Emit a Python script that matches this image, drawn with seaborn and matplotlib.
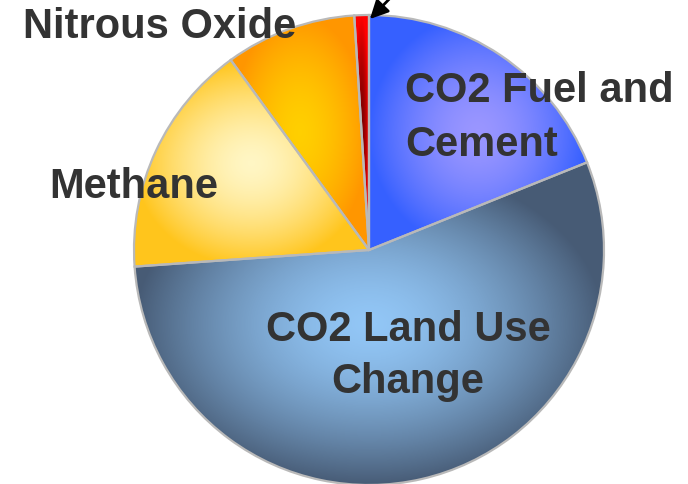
import numpy as np
import seaborn as sns
import matplotlib.pyplot as plt

# shares of the pie, going clockwise from the top
sources = ["CO2 Fuel and\nCement", "CO2 Land Use\nChange", "Methane", "Nitrous Oxide", ""]
shares = [18.9, 54.9, 16.1, 9.0, 1.0]
# (centre colour, edge colour) of each slice's shading
centre_colors = ["#9a96ff", "#92c6f6", "#fff6c4", "#ffcf00", "#7a0000"]
edge_colors = ["#3660ff", "#475b75", "#ffc51c", "#ff9600", "#ff0000"]

sns.set_style("white")
plt.rcParams["font.family"] = ["Liberation Sans", "DejaVu Sans"]

W, H = 688, 484
fig = plt.figure(figsize=(W / 100, H / 100), dpi=100)
ax = fig.add_axes([0, 0, 1, 1])

cx, cy, R = 369, 234, 235
wedges, _ = ax.pie(shares, startangle=90, counterclock=False, center=(cx, cy),
                   radius=R, wedgeprops=dict(facecolor="none", edgecolor="#b9b9b9",
                                             linewidth=1.6, zorder=3))

xx, yy = np.meshgrid(np.arange(W) + 0.5, np.arange(H) + 0.5)
for w, c0, c1 in zip(wedges, centre_colors, edge_colors):
    # shade each slice from the middle of its bounding box outwards
    ang = np.radians(np.linspace(w.theta1, w.theta2, 300))
    px = np.r_[cx, cx + R * np.cos(ang)]
    py = np.r_[cy, cy + R * np.sin(ang)]
    mx, my = (px.min() + px.max()) / 2, (py.min() + py.max()) / 2
    hw, hh = (px.max() - px.min()) / 2, (py.max() - py.min()) / 2
    d = np.sqrt(((xx - mx) / hw) ** 2 + ((yy - my) / hh) ** 2)
    t = np.clip(d, 0, 1) ** 1.6
    cmap = sns.blend_palette([c0, c1], as_cmap=True)
    im = ax.imshow(cmap(t), extent=(0, W, 0, H), origin="lower",
                   interpolation="bilinear", zorder=2)
    im.set_clip_path(w)

txt = dict(fontsize=30, fontweight="bold", color="#333333", zorder=5)
ax.text(405, 484 - 118, sources[0], ha="left", va="center", linespacing=1.45, **txt)
ax.text(408, 484 - 356, sources[1], ha="center", va="center", linespacing=1.38, **txt)
ax.text(134, 484 - 187, sources[2], ha="center", va="center", **txt)
ax.text(160, 484 - 27, sources[3], ha="center", va="center", **txt)

ax.annotate("", xy=(368, 484 - 21), xytext=(398, 494), annotation_clip=False,
            arrowprops=dict(arrowstyle="-|>,head_length=1.1,head_width=0.55",
                            color="black", lw=2), zorder=6)

ax.set_xlim(0, W)
ax.set_ylim(0, H)
ax.set_aspect("equal")
ax.axis("off")
fig.savefig("out.png", dpi=100)
